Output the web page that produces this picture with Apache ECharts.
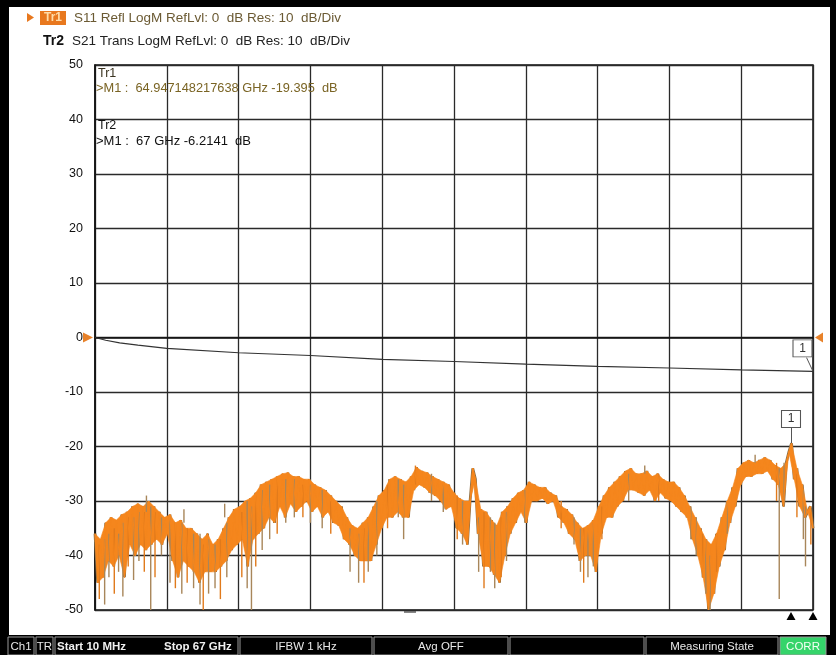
<!DOCTYPE html>
<html>
<head>
<meta charset="utf-8">
<script src="https://cdn.jsdelivr.net/npm/echarts@6/dist/echarts.min.js"></script>
<style>
html,body{margin:0;padding:0;background:#000;}
#chart{width:836px;height:655px;}
</style>
</head>
<body>
<div id="chart"></div>
<script>
// ---- Data ----
const xMinGHz = 0, xMaxGHz = 67, xDivGHz = 6.7;
const yTicks = [50, 40, 30, 20, 10, 0, -10, -20, -30, -40, -50];

// S21 (Tr2) transmission
const s21Freq = [0.01, 1, 2.3, 4, 6.7, 13.4, 20.1, 26.8, 33.5, 40.2, 46.9, 53.6, 60.3, 67];
const s21dB   = [0, -0.5, -1.0, -1.4, -2.0, -2.8, -3.3, -4.0, -4.4, -4.9, -5.3, -5.6, -5.95, -6.21];

// S11 (Tr1) reflection band, sweep points every 0.25 GHz
const s11StepGHz = 0.25;
const s11dB = [
 -36,-45,-37,-44,  -34,-41,-33,-42,  -33.5,-40,-32.5,-44,  -32,-38,-31,-40,
 -30.5,-38,-31,-39,  -30,-38,-31,-37,  -32,-38,-33,-36,  -32.5,-41,-34,-44,
 -33.5,-41,-35,-42,  -35,-43,-36,-45,  -37,-43,-36,-43,  -38,-43,-37,-42,
 -35,-41,-33,-39,  -31.5,-38,-31,-37,  -30,-42,-29.5,-37,  -28.5,-36,-27,-35,
 -26.5,-33,-26,-34,  -25.5,-31,-25,-33,  -24.8,-30.5,-25.5,-32,  -25.5,-31,-26,-30,
 -26,-32,-27,-31,  -27.5,-33,-28,-32,  -29,-34,-30,-34.5,  -31,-37,-33,-38,
 -34.5,-40,-35,-41,  -34,-41,-33,-41,  -31,-38,-29,-35,  -28,-33,-26,-33,
 -25.5,-32,-26,-33,  -26.5,-33,-25.5,-28,  -23.8,-27,-24.5,-27.5,  -24.8,-28.5,-25.5,-29,
 -26,-30,-26.5,-31.5,  -27,-31,-28.5,-35,  -29.5,-36,-30,-38,  -30,-24,-26,-36,
 -31.5,-42,-32,-42,  -33.5,-43.5,-34.5,-45,  -32,-40,-31,-36,  -29.5,-34,-28.5,-32,
 -28,-34,-26.5,-30,  -27,-30,-27.5,-29.5,  -27.5,-30.5,-28.5,-30,  -29,-33,-31,-34,
 -31.5,-36,-32.5,-37,  -34,-41,-35,-40,  -34.5,-40,-33.5,-43,  -31,-36,-29,-33,
 -27.5,-33,-26.5,-31,  -25.5,-30,-24.5,-28,  -24,-28,-25,-28.5,  -25,-29,-24.5,-28,
 -25.5,-30,-25,-28.5,  -26,-29.5,-26.5,-30,  -26.5,-31,-27.5,-32,  -29,-33,-31,-37,
 -33,-40,-35,-44,  -37,-50,-38,-47,  -36,-42,-33,-39,  -30,-34,-27.5,-31,
 -24,-27,-23,-25.5,  -22.5,-25.5,-23,-25,  -22.5,-25,-22,-24.5,  -22.5,-26,-23.5,-27,
 -24,-31,-23,-21,  -19.4,-26,-24,-31,  -27,-33,-32,-31,  -35
];

// S11 narrow spikes off the band: frequency (GHz), band edge (dB), spike tip (dB)
const spikeFreq = [0.4, 0.9, 1.3, 1.8, 2.2, 2.6, 3.1, 3.6, 4.1, 4.6, 4.8, 5.2, 5.6, 6.2, 7.0, 7.5, 8.1, 8.3, 8.6, 9.2, 9.8, 10.1, 10.6, 11.2, 11.7, 12.1, 12.3,
  13.7, 14.2, 14.6, 15.0, 15.6, 16.3, 17.0, 17.8, 18.6, 19.4, 20.1, 21.2, 22.0, 23.8, 24.6, 25.1, 25.5, 26.3,
  27.3, 28.3, 28.8, 29.9, 31.4, 32.5, 33.8, 34.3, 35.8, 36.3, 36.9, 37.3, 37.9, 38.4,
  40.1, 43.5, 44.7, 45.3, 45.6, 46.0, 46.5, 47.3, 49.8, 51.3, 52.6,
  55.6, 56.1, 56.7, 57.0, 57.4, 58.0, 59.0, 61.6, 63.6, 63.85, 64.3, 65.5, 66.1, 66.3, 66.8];
const spikeFrom = [-38, -37, -36, -35, -36, -34, -33, -33, -32, -32, -32, -31, -32, -33, -33, -34, -34, -34, -35, -36, -36, -38, -37, -38, -37, -33, -34,
  -32, -30, -31, -29, -28, -27, -26, -26, -26, -27, -27, -28, -30, -35, -36, -35, -34, -30,
  -27, -26, -27, -27, -25, -27, -29, -30, -33, -32, -33, -34, -33, -32,
  -28, -30, -33, -35, -35, -35, -34, -31, -25, -25, -25,
  -31, -33, -36, -37, -40, -36, -30, -23, -23, -24, -23, -25, -28, -31, -32];
const spikeTo = [-48, -49, -44, -47, -43, -47.5, -42, -44.5, -41, -43, -29, -50, -44, -40, -45, -46, -47, -31.5, -45, -46, -49, -50, -47, -46, -48, -30.5, -44,
  -44, -46, -50, -42, -39, -37, -36, -34, -33, -33, -34, -35, -36, -43, -45, -45, -43, -40,
  -35, -33, -37, -23.5, -30, -32, -37, -38, -43, -46, -43, -46, -44, -41,
  -34, -35, -38, -43, -45, -44, -42, -37, -30, -23.5, -30,
  -37, -40, -44, -47, -50, -43, -36, -21.5, -30, -48, -31, -33, -37, -42, -38];

// Markers
const m1Tr1 = { freq: 64.947148217638, dB: -19.395 };
const m1Tr2 = { freq: 67, dB: -6.2141 };

// ---- Build ----
const s11Data = s11dB.map((v, i) => [xMinGHz + i * s11StepGHz, v]);
const s21Data = s21Freq.map((f, i) => [f, s21dB[i]]);
const spikeData = spikeFreq.map((f, i) => [f, spikeFrom[i], spikeTo[i]]);

const chart = echarts.init(document.getElementById('chart'));
const font = 'Liberation Sans, Arial, sans-serif';
const orange = '#f5861d';
const triRight = 'path://M0,0 L10,5 L0,10 Z';
const triLeft = 'path://M10,0 L0,5 L10,10 Z';
const triUp = 'path://M5,0 L10,10 L0,10 Z';

const statusCells = [
  { x: 8, w: 26, t: 'Ch1' },
  { x: 36, w: 17, t: 'TR' },
  { x: 55, w: 183, t: '' },
  { x: 240, w: 132, t: 'IFBW 1 kHz' },
  { x: 374, w: 134, t: 'Avg OFF' },
  { x: 510, w: 134, t: '' },
  { x: 646, w: 132, t: 'Measuring State' }
];

const graphics = [
  { type: 'rect', shape: { x: 9, y: 7, width: 821, height: 628 }, style: { fill: '#fff' }, z: -10 },
  // header
  { type: 'polygon', shape: { points: [[27, 13], [34, 17.5], [27, 22]] }, style: { fill: '#e8781e' } },
  { type: 'rect', shape: { x: 40, y: 11, width: 26, height: 14 }, style: { fill: '#e8781e' } },
  { type: 'text', style: { x: 53, y: 18, text: 'Tr1', fill: '#ffdca8', font: 'bold 12px ' + font, textAlign: 'center', textVerticalAlign: 'middle' } },
  { type: 'text', style: { x: 74, y: 18, text: 'S11 Refl LogM RefLvl: 0  dB Res: 10  dB/Div', fill: '#6b5a33', font: '13.5px ' + font, textVerticalAlign: 'middle' } },
  { type: 'text', style: { x: 43, y: 41, text: 'Tr2', fill: '#111', font: 'bold 14px ' + font, textVerticalAlign: 'middle' } },
  { type: 'text', style: { x: 72, y: 41, text: 'S21 Trans LogM RefLvl: 0  dB Res: 10  dB/Div', fill: '#222', font: '13.5px ' + font, textVerticalAlign: 'middle' } },
  // marker readouts
  { type: 'text', z: 20, style: { x: 98, y: 74, text: 'Tr1', fill: '#3a3320', font: '12.5px ' + font, textVerticalAlign: 'middle' } },
  { type: 'text', z: 20, style: { x: 96, y: 88, text: '>M1 :  ' + m1Tr1.freq + ' GHz ' + m1Tr1.dB + '  dB', fill: '#7a6424', font: '12.8px ' + font, textVerticalAlign: 'middle' } },
  { type: 'text', z: 20, style: { x: 98, y: 126, text: 'Tr2', fill: '#111', font: '12.5px ' + font, textVerticalAlign: 'middle' } },
  { type: 'text', z: 20, style: { x: 96, y: 141, text: '>M1 :  ' + m1Tr2.freq + ' GHz ' + m1Tr2.dB + '  dB', fill: '#111', font: '13px ' + font, textVerticalAlign: 'middle' } },
  // small cursor dash
  { type: 'rect', shape: { x: 404, y: 611, width: 12, height: 2 }, style: { fill: '#888' } }
];
statusCells.forEach(c => {
  graphics.push({ type: 'rect', shape: { x: c.x, y: 637, width: c.w, height: 18 }, style: { fill: '#000', stroke: '#9a9a9a', lineWidth: 1 } });
  if (c.t) graphics.push({ type: 'text', style: { x: c.x + c.w / 2, y: 647, text: c.t, fill: '#e8e8e8', font: '11.5px ' + font, textAlign: 'center', textVerticalAlign: 'middle' } });
});
graphics.push({ type: 'text', style: { x: 57, y: 647, text: 'Start 10 MHz', fill: '#f0f0f0', font: 'bold 11.5px ' + font, textVerticalAlign: 'middle' } });
graphics.push({ type: 'text', style: { x: 164, y: 647, text: 'Stop 67 GHz', fill: '#f0f0f0', font: 'bold 11.5px ' + font, textVerticalAlign: 'middle' } });
graphics.push({ type: 'rect', shape: { x: 780, y: 637, width: 46, height: 18 }, style: { fill: '#35d46a', stroke: '#9a9a9a', lineWidth: 1 } });
graphics.push({ type: 'text', style: { x: 803, y: 647, text: 'CORR', fill: '#f4fff4', font: '11.5px ' + font, textAlign: 'center', textVerticalAlign: 'middle' } });

const option = {
  animation: false,
  backgroundColor: '#000',
  grid: { left: 95, right: 23, top: 65, bottom: 45, show: true, backgroundColor: '#fff', borderColor: '#111', borderWidth: 1.5 },
  xAxis: {
    type: 'value', min: xMinGHz, max: xMaxGHz, interval: xDivGHz,
    axisLabel: { show: false }, axisTick: { show: false },
    axisLine: { show: true, lineStyle: { color: '#111', width: 1.5 } },
    splitLine: { show: true, lineStyle: { color: '#2a2a2a', width: 1.3 } }
  },
  yAxis: {
    type: 'value', min: yTicks[yTicks.length - 1], max: yTicks[0], interval: 10,
    axisLabel: { color: '#111', fontSize: 12.5, fontFamily: font, margin: 12 },
    axisTick: { show: false },
    axisLine: { show: true, lineStyle: { color: '#111', width: 1.5 } },
    splitLine: { show: true, lineStyle: { color: '#2a2a2a', width: 1.3 } }
  },
  series: [
    {
      name: 'S11 edge', type: 'line', data: s11Data, symbol: 'none', silent: true,
      lineStyle: { color: '#8f6f45', width: 2.8 }, z: 3
    },
    {
      name: 'S11 fill', type: 'custom', data: s11Data, silent: true, z: 4,
      renderItem: function (params, api) {
        const i = params.dataIndex;
        if (i + 2 >= s11Data.length) return null;
        const pts = [api.coord(s11Data[i]), api.coord(s11Data[i + 1]), api.coord(s11Data[i + 2])];
        return { type: 'polygon', shape: { points: pts }, style: { fill: orange, stroke: orange, lineWidth: 0.6 } };
      }
    },
    {
      name: 'S11 spikes', type: 'custom', data: spikeData, silent: true, z: 5,
      renderItem: function (params, api) {
        const a = api.coord([api.value(0), api.value(1)]);
        const b = api.coord([api.value(0), api.value(2)]);
        return { type: 'line', shape: { x1: a[0], y1: a[1], x2: b[0], y2: b[1] }, style: { stroke: params.dataIndex % 3 === 0 ? '#e07a1c' : '#a8865a', lineWidth: 1.4 } };
      }
    },
    {
      name: 'S11', type: 'line', data: s11Data, symbol: 'none',
      lineStyle: { color: orange, width: 1 }, z: 5,
      markPoint: {
        symbol: 'rect', symbolSize: [19, 17],
        itemStyle: { color: '#fff', borderColor: '#555', borderWidth: 1 },
        label: { show: true, formatter: '1', color: '#333', fontSize: 12, fontFamily: font },
        data: [
          { coord: [m1Tr1.freq, -14.95] },
          { coord: [xMinGHz, 0], symbol: triRight, symbolSize: [10, 10], symbolOffset: [-7, 0], itemStyle: { color: '#e8822a', borderWidth: 0 }, label: { show: false } },
          { coord: [xMaxGHz, 0], symbol: triLeft, symbolSize: [8, 10], symbolOffset: [6, 0], itemStyle: { color: '#e8822a', borderWidth: 0 }, label: { show: false } },
          { coord: [m1Tr1.freq, -50], symbol: triUp, symbolSize: [9, 8], symbolOffset: [0, 6], itemStyle: { color: '#000', borderWidth: 0 }, label: { show: false } },
          { coord: [m1Tr2.freq, -50], symbol: triUp, symbolSize: [9, 8], symbolOffset: [0, 6], itemStyle: { color: '#000', borderWidth: 0 }, label: { show: false } }
        ]
      },
      markLine: {
        symbol: 'none', silent: true, label: { show: false },
        lineStyle: { color: '#555', width: 1, type: 'solid' },
        data: [[{ coord: [m1Tr1.freq, m1Tr1.dB] }, { coord: [m1Tr1.freq, -16.5] }]]
      }
    },
    {
      name: 'S21', type: 'line', data: s21Data, symbol: 'none',
      lineStyle: { color: '#333', width: 1.2 }, z: 6,
      markPoint: {
        symbol: 'rect', symbolSize: [19, 17],
        itemStyle: { color: '#fff', borderColor: '#555', borderWidth: 1 },
        label: { show: true, formatter: '1', color: '#333', fontSize: 12, fontFamily: font },
        data: [{ coord: [66.02, -2.0] }]
      },
      markLine: {
        symbol: 'none', silent: true, label: { show: false },
        lineStyle: { color: '#555', width: 1, type: 'solid' },
        data: [[{ coord: [66.4, -3.7] }, { coord: [m1Tr2.freq, m1Tr2.dB] }]]
      }
    }
  ],
  graphic: graphics
};
chart.setOption(option);
</script>
</body>
</html>
